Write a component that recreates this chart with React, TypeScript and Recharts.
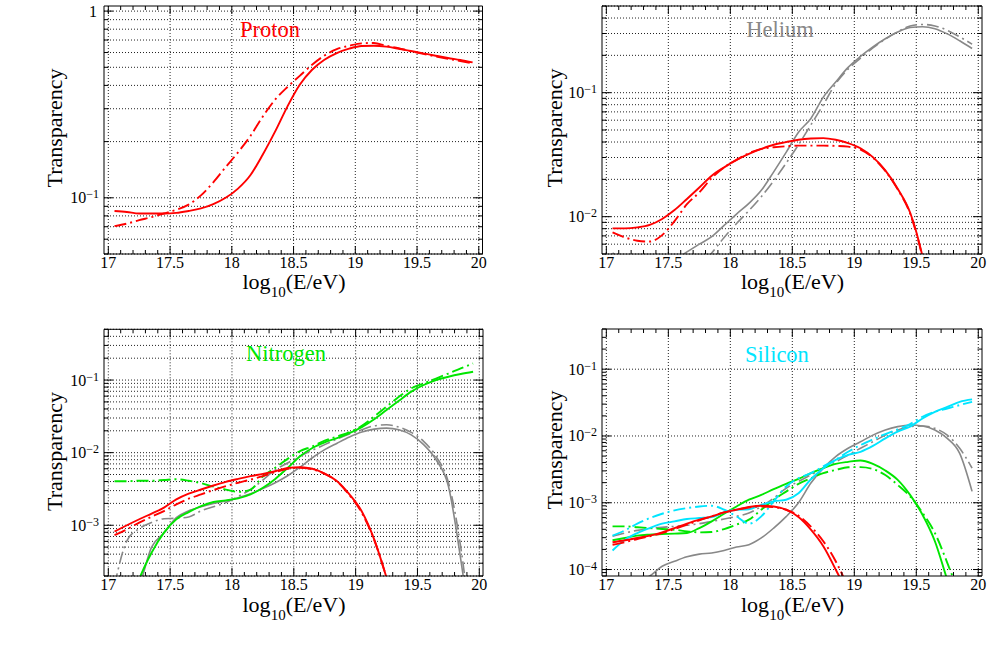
import React from 'react';
import { LineChart, Line, XAxis, YAxis, CartesianGrid } from 'recharts';

const FONT = '"Liberation Serif", "Times New Roman", serif';

// ---------- x axis ----------
const X_BINS = [17.05, 17.15, 17.25, 17.35, 17.45, 17.55, 17.65, 17.75, 17.85, 17.95,
  18.05, 18.15, 18.25, 18.35, 18.45, 18.55, 18.65, 18.75, 18.85, 18.95,
  19.05, 19.15, 19.25, 19.35, 19.45, 19.55, 19.65, 19.75, 19.85, 19.95];
const X_DOMAIN = [16.965, 20.03];
const X_MAJOR = [17, 17.5, 18, 18.5, 19, 19.5, 20];
const X_LABELS = ['17', '17.5', '18', '18.5', '19', '19.5', '20'];
const X_TICKS = [17, 17.1, 17.2, 17.3, 17.4, 17.5, 17.6, 17.7, 17.8, 17.9,
  18, 18.1, 18.2, 18.3, 18.4, 18.5, 18.6, 18.7, 18.8, 18.9,
  19, 19.1, 19.2, 19.3, 19.4, 19.5, 19.6, 19.7, 19.8, 19.9, 20];

// ---------- panel 1 : Proton ----------
const P1_PROTON_SOLID = [0.085, 0.084, 0.0824, 0.0824, 0.0824, 0.083, 0.085, 0.0877, 0.0925, 0.1,
  0.112, 0.132, 0.17, 0.226, 0.308, 0.403, 0.485, 0.549, 0.596, 0.629,
  0.65, 0.652, 0.645, 0.629, 0.611, 0.594, 0.577, 0.561, 0.547, 0.531];
const P1_PROTON_DASH = [0.0705, 0.0727, 0.0759, 0.0788, 0.0824, 0.0862, 0.092, 0.103, 0.121, 0.146,
  0.175, 0.214, 0.272, 0.335, 0.392, 0.45, 0.516, 0.578, 0.625, 0.652,
  0.672, 0.675, 0.652, 0.634, 0.609, 0.59, 0.572, 0.556, 0.54, 0.525];
const P1_Y_DOMAIN = [0.05, 1.065];
const P1_Y_TICKS = [0.05, 0.06, 0.07, 0.08, 0.09, 0.1, 0.2, 0.3, 0.4, 0.5, 0.6, 0.7, 0.8, 0.9, 1];

// ---------- panel 2 : Helium ----------
const P2_PROTON_SOLID = [0.00805, 0.00805, 0.0082, 0.00858, 0.00958, 0.0113, 0.0139, 0.0172, 0.0214, 0.025,
  0.0287, 0.0321, 0.0352, 0.038, 0.0399, 0.0417, 0.0427, 0.043, 0.0417, 0.0392,
  0.0356, 0.0302, 0.0236, 0.0168, 0.0108, 0.0048, 0.0015, 0.0005, 0.0002, 0.0001];
const P2_PROTON_DASH = [0.00746, 0.0068, 0.0064, 0.0063, 0.0071, 0.0092, 0.0126, 0.0157, 0.0205, 0.025,
  0.0287, 0.0325, 0.0352, 0.0363, 0.037, 0.0374, 0.0374, 0.0374, 0.0372, 0.0367,
  0.0347, 0.0299, 0.0234, 0.0166, 0.0106, 0.0047, 0.0015, 0.0005, 0.0002, 0.0001];
const P2_HELIUM_SOLID = [0.002, 0.0025, 0.003, 0.0035, 0.004, 0.0045, 0.0052, 0.006, 0.0069, 0.0085,
  0.0105, 0.0128, 0.0163, 0.023, 0.033, 0.048, 0.062, 0.092, 0.122, 0.16,
  0.196, 0.234, 0.272, 0.308, 0.335, 0.34, 0.328, 0.298, 0.262, 0.227];
const P2_HELIUM_DASH = [0.0051, 0.0042, 0.0036, 0.0032, 0.003, 0.0031, 0.0034, 0.0039, 0.0051, 0.0068,
  0.0088, 0.0112, 0.0145, 0.0195, 0.027, 0.038, 0.055, 0.08, 0.118, 0.155,
  0.19, 0.23, 0.27, 0.31, 0.345, 0.355, 0.345, 0.318, 0.282, 0.246];
const P2_Y_DOMAIN = [0.005, 0.5];
const P2_Y_TICKS = [0.005, 0.006, 0.007, 0.008, 0.009,
  0.01, 0.02, 0.03, 0.04, 0.05, 0.06, 0.07, 0.08, 0.09,
  0.1, 0.2, 0.3, 0.4, 0.5];

// ---------- panel 3 : Nitrogen ----------
const P3_PROTON_SOLID = [0.00082, 0.001, 0.00121, 0.00145, 0.00175, 0.00227, 0.00272, 0.00311, 0.00353, 0.00396,
  0.00435, 0.00474, 0.0051, 0.00555, 0.00616, 0.0063, 0.006, 0.00515, 0.00404, 0.00266,
  0.00155, 0.00064, 0.00019, 0.00005, 0.00002, 0.00001, 0.00001, 0.00001, 0.00001, 0.00001];
const P3_PROTON_DASH = [0.00073, 0.00088, 0.00109, 0.00131, 0.00157, 0.00194, 0.00232, 0.00266, 0.00305, 0.00345,
  0.00385, 0.00425, 0.00474, 0.0054, 0.006, 0.0062, 0.0059, 0.0051, 0.004, 0.0026,
  0.00148, 0.00063, 0.00019, 0.00005, 0.00002, 0.00001, 0.00001, 0.00001, 0.00001, 0.00001];
const P3_HELIUM_SOLID = [0.00005, 0.0001, 0.00015, 0.0005, 0.00078, 0.00127, 0.00158, 0.0018, 0.002, 0.00216,
  0.0024, 0.00272, 0.0032, 0.00385, 0.0048, 0.0063, 0.0085, 0.011, 0.0135, 0.0164,
  0.0192, 0.0211, 0.0218, 0.0207, 0.0176, 0.0129, 0.008, 0.00347, 0.00034, 0.00002];
const P3_HELIUM_DASH = [0.00015, 0.00061, 0.0009, 0.00109, 0.00123, 0.00125, 0.0013, 0.00158, 0.0018, 0.00205,
  0.0025, 0.0031, 0.0042, 0.0058, 0.0072, 0.0089, 0.0108, 0.0129, 0.0154, 0.018,
  0.0207, 0.0234, 0.0242, 0.0225, 0.019, 0.0143, 0.0089, 0.0039, 0.0005, 0.00002];
const P3_NITROGEN_SOLID = [0.00002, 0.00005, 0.00018, 0.00042, 0.00079, 0.00121, 0.00152, 0.00184, 0.00209, 0.0022,
  0.00235, 0.00266, 0.00328, 0.00435, 0.00616, 0.0089, 0.0116, 0.0139, 0.0159, 0.0186,
  0.0225, 0.0289, 0.0388, 0.052, 0.0692, 0.0855, 0.1, 0.111, 0.121, 0.13];
const P3_NITROGEN_DASH = [0.00404, 0.00404, 0.0041, 0.0041, 0.0042, 0.0043, 0.0041, 0.0038, 0.0034, 0.0031,
  0.00288, 0.0031, 0.0047, 0.0062, 0.0082, 0.0105, 0.0122, 0.0146, 0.0167, 0.0192,
  0.0234, 0.0314, 0.0431, 0.059, 0.077, 0.09, 0.105, 0.123, 0.145, 0.169];
const P3_Y_DOMAIN = [0.0002, 0.5];
const P3_Y_TICKS = [0.0002, 0.0003, 0.0004, 0.0005, 0.0006, 0.0007, 0.0008, 0.0009,
  0.001, 0.002, 0.003, 0.004, 0.005, 0.006, 0.007, 0.008, 0.009,
  0.01, 0.02, 0.03, 0.04, 0.05, 0.06, 0.07, 0.08, 0.09,
  0.1, 0.2, 0.3, 0.4, 0.5];

// ---------- panel 4 : Silicon ----------
const P4_PROTON_SOLID = [2.56e-4, 2.74e-4, 2.97e-4, 3.22e-4, 3.6e-4, 4.18e-4, 4.86e-4, 5.58e-4, 6.25e-4, 7.17e-4,
  7.86e-4, 8.62e-4, 9.0e-4, 8.8e-4, 7.86e-4, 6.1e-4, 3.95e-4, 2.23e-4, 1.0e-4, 4e-5,
  1e-5, 1e-5, 1e-5, 1e-5, 1e-5, 1e-5, 1e-5, 1e-5, 1e-5, 1e-5];
const P4_PROTON_DASH = [2.35e-4, 2.56e-4, 2.87e-4, 3.15e-4, 3.52e-4, 4.04e-4, 4.7e-4, 5.45e-4, 6.25e-4, 7.17e-4,
  7.86e-4, 8.5e-4, 8.8e-4, 8.6e-4, 7.86e-4, 6.4e-4, 4.4e-4, 2.65e-4, 1.33e-4, 5e-5,
  1e-5, 1e-5, 1e-5, 1e-5, 1e-5, 1e-5, 1e-5, 1e-5, 1e-5, 1e-5];
const P4_HELIUM_SOLID = [4e-5, 5e-5, 6.5e-5, 8e-5, 1.12e-4, 1.33e-4, 1.55e-4, 1.7e-4, 1.77e-4, 1.93e-4,
  2.17e-4, 2.35e-4, 2.97e-4, 4.18e-4, 6.2e-4, 1.0e-3, 1.97e-3, 3.3e-3, 4.92e-3, 6.55e-3,
  8.2e-3, 1.03e-2, 1.23e-2, 1.38e-2, 1.46e-2, 1.41e-2, 1.23e-2, 9.2e-3, 5.5e-3, 1.48e-3];
const P4_HELIUM_DASH = [3.15e-4, 3.52e-4, 3.86e-4, 4.12e-4, 4.3e-4, 4.43e-4, 4.6e-4, 4.86e-4, 5.26e-4, 5.7e-4,
  6.25e-4, 7.0e-4, 8.8e-4, 1.17e-3, 1.65e-3, 2.08e-3, 2.62e-3, 3.3e-3, 4.1e-3, 5.2e-3,
  6.55e-3, 8.2e-3, 1.03e-2, 1.23e-2, 1.38e-2, 1.41e-2, 1.3e-2, 1.03e-2, 6.55e-3, 3.3e-3];
const P4_NITROGEN_SOLID = [2.74e-4, 2.97e-4, 3.22e-4, 3.33e-4, 3.4e-4, 3.45e-4, 3.52e-4, 4.18e-4, 5.26e-4, 6.85e-4,
  8.8e-4, 1.11e-3, 1.31e-3, 1.6e-3, 1.92e-3, 2.28e-3, 2.78e-3, 3.3e-3, 3.82e-3, 4.1e-3,
  4.3e-3, 3.82e-3, 3.04e-3, 2.2e-3, 1.31e-3, 6.6e-4, 2.65e-4, 7e-5, 2e-5, 1e-5];
const P4_NITROGEN_DASH = [4.43e-4, 4.43e-4, 4.3e-4, 4.18e-4, 4.04e-4, 3.95e-4, 3.73e-4, 3.6e-4, 3.65e-4, 4.04e-4,
  4.7e-4, 5.58e-4, 7.86e-4, 1.11e-3, 1.47e-3, 1.92e-3, 2.33e-3, 2.78e-3, 3.1e-3, 3.4e-3,
  3.42e-3, 3.2e-3, 2.6e-3, 1.85e-3, 1.25e-3, 7.1e-4, 3.52e-4, 1.26e-4, 4e-5, 1e-5];
const P4_SILICON_SOLID = [1.93e-4, 2.8e-4, 3.52e-4, 4.18e-4, 4.86e-4, 5.26e-4, 5.7e-4, 5.9e-4, 6.1e-4, 7.17e-4,
  7.86e-4, 8.0e-4, 9.3e-4, 1.05e-3, 1.11e-3, 1.39e-3, 2.25e-3, 3.3e-3, 4.4e-3, 5.2e-3,
  5.8e-3, 7.1e-3, 9.2e-3, 1.16e-2, 1.38e-2, 1.83e-2, 2.3e-2, 2.73e-2, 3.25e-2, 3.53e-2];
const P4_SILICON_DASH = [3.22e-4, 3.86e-4, 4.86e-4, 5.9e-4, 6.85e-4, 7.7e-4, 8.3e-4, 8.8e-4, 9.0e-4, 7.86e-4,
  6.25e-4, 4.86e-4, 6.25e-4, 1.05e-3, 1.75e-3, 2.33e-3, 2.78e-3, 3.5e-3, 4.4e-3, 5.8e-3,
  7.3e-3, 8.9e-3, 1.07e-2, 1.26e-2, 1.51e-2, 1.94e-2, 2.3e-2, 2.58e-2, 2.9e-2, 3.25e-2];
const P4_Y_DOMAIN = [0.00008, 0.4];
const P4_Y_TICKS = [0.00008, 0.00009,
  0.0001, 0.0002, 0.0003, 0.0004, 0.0005, 0.0006, 0.0007, 0.0008, 0.0009,
  0.001, 0.002, 0.003, 0.004, 0.005, 0.006, 0.007, 0.008, 0.009,
  0.01, 0.02, 0.03, 0.04, 0.05, 0.06, 0.07, 0.08, 0.09,
  0.1, 0.2, 0.3, 0.4];
const P4_Y_GRID = [0.0001, 0.001, 0.01, 0.1];

// ---------- styles ----------
const RED = '#ff0000';
const GRAY = '#888888';
const GREEN = '#00e600';
const CYAN = '#00e5ff';
const DASH = '12 4 2 4';

function buildRows(series) {
  return X_BINS.map((x, i) => {
    const r = { x };
    for (const k of Object.keys(series)) r[k] = series[k][i];
    return r;
  });
}

function isDecade(v) {
  const l = Math.log10(v);
  return Math.abs(l - Math.round(l)) < 1e-6;
}

function makeXTick(side) {
  return (props) => {
    const { x, y, payload } = props;
    const v = payload.value;
    const idx = X_MAJOR.findIndex((m) => Math.abs(m - v) < 1e-6);
    const len = idx >= 0 ? 8 : 4;
    const dir = side === 'bottom' ? -1 : 1;
    return (
      <g>
        <line x1={x} x2={x} y1={y} y2={y + dir * len} stroke="#000" strokeWidth={1} />
        {side === 'bottom' && idx >= 0 ? (
          <text x={x} y={y + 14} textAnchor="middle" fontFamily={FONT} fontSize={16} fill="#000">
            {X_LABELS[idx]}
          </text>
        ) : null}
      </g>
    );
  };
}

function makeYTick(side) {
  return (props) => {
    const { x, y, payload } = props;
    const v = payload.value;
    const major = isDecade(v);
    const len = major ? 9 : 4.5;
    const dir = side === 'left' ? 1 : -1;
    let label = null;
    if (side === 'left' && major) {
      const e = Math.round(Math.log10(v));
      if (e === 0) {
        label = (
          <text x={x - 7} y={y + 6} textAnchor="end" fontFamily={FONT} fontSize={16} fill="#000">1</text>
        );
      } else {
        label = (
          <text x={x - 5} y={y + 5.5} textAnchor="end" fontFamily={FONT} fontSize={16} fill="#000">
            <tspan>10</tspan>
            <tspan fontSize={12} dy={-5}>{'\u2212' + Math.abs(e)}</tspan>
          </text>
        );
      }
    }
    return (
      <g>
        <line x1={x} x2={x + dir * len} y1={y} y2={y} stroke="#000" strokeWidth={1} />
        {label}
      </g>
    );
  };
}

const bottomTick = makeXTick('bottom');
const topTick = makeXTick('top');
const leftTick = makeYTick('left');
const rightTick = makeYTick('right');

function Panel({ left, top, width, height, plot, yDomain, yTicks, yGrid, rows, series }) {
  return (
    <div style={{ position: 'absolute', left, top, width, height }}>
      <LineChart width={width} height={height} data={rows} margin={{ top: 0, right: 0, bottom: 0, left: 0 }}>
        <CartesianGrid
          xAxisId="b"
          yAxisId="l"
          verticalValues={X_MAJOR}
          horizontalValues={yGrid}
          stroke="#222"
          strokeDasharray="1 2"
          strokeWidth={1}
        />
        <XAxis
          xAxisId="b"
          dataKey="x"
          type="number"
          orientation="bottom"
          domain={X_DOMAIN}
          ticks={X_TICKS}
          interval={0}
          allowDataOverflow
          height={height - plot.bottom}
          axisLine={{ stroke: '#000', strokeWidth: 1 }}
          tickLine={false}
          tickSize={0}
          tickMargin={0}
          tick={bottomTick}
        />
        <XAxis
          xAxisId="t"
          dataKey="x"
          type="number"
          orientation="top"
          domain={X_DOMAIN}
          ticks={X_TICKS}
          interval={0}
          allowDataOverflow
          height={plot.top}
          axisLine={{ stroke: '#000', strokeWidth: 1 }}
          tickLine={false}
          tickSize={0}
          tickMargin={0}
          tick={topTick}
        />
        <YAxis
          yAxisId="l"
          type="number"
          scale="log"
          orientation="left"
          domain={yDomain}
          ticks={yTicks}
          interval={0}
          allowDataOverflow
          width={plot.left}
          axisLine={{ stroke: '#000', strokeWidth: 1 }}
          tickLine={false}
          tickSize={0}
          tickMargin={0}
          tick={leftTick}
        />
        <YAxis
          yAxisId="r"
          type="number"
          scale="log"
          orientation="right"
          domain={yDomain}
          ticks={yTicks}
          interval={0}
          allowDataOverflow
          width={width - plot.right}
          axisLine={{ stroke: '#000', strokeWidth: 1 }}
          tickLine={false}
          tickSize={0}
          tickMargin={0}
          tick={rightTick}
        />
        {series.map((s) => (
          <Line
            key={s.key}
            xAxisId="b"
            yAxisId="l"
            dataKey={s.key}
            type="monotone"
            stroke={s.color}
            strokeWidth={s.width}
            strokeDasharray={s.dash ? DASH : undefined}
            dot={false}
            activeDot={false}
            isAnimationActive={false}
          />
        ))}
      </LineChart>
    </div>
  );
}

const P1_ROWS = buildRows({ ps: P1_PROTON_SOLID, pd: P1_PROTON_DASH });
const P2_ROWS = buildRows({ ps: P2_PROTON_SOLID, pd: P2_PROTON_DASH, hs: P2_HELIUM_SOLID, hd: P2_HELIUM_DASH });
const P3_ROWS = buildRows({
  ps: P3_PROTON_SOLID, pd: P3_PROTON_DASH, hs: P3_HELIUM_SOLID, hd: P3_HELIUM_DASH,
  ns: P3_NITROGEN_SOLID, nd: P3_NITROGEN_DASH,
});
const P4_ROWS = buildRows({
  ps: P4_PROTON_SOLID, pd: P4_PROTON_DASH, hs: P4_HELIUM_SOLID, hd: P4_HELIUM_DASH,
  ns: P4_NITROGEN_SOLID, nd: P4_NITROGEN_DASH, ss: P4_SILICON_SOLID, sd: P4_SILICON_DASH,
});

const S_P = [
  { key: 'pd', color: RED, width: 1.9, dash: true },
  { key: 'ps', color: RED, width: 1.9, dash: false },
];
const S_H = [
  { key: 'hd', color: GRAY, width: 1.6, dash: true },
  { key: 'hs', color: GRAY, width: 1.6, dash: false },
];
const S_N = [
  { key: 'nd', color: GREEN, width: 1.9, dash: true },
  { key: 'ns', color: GREEN, width: 1.9, dash: false },
];
const S_S = [
  { key: 'sd', color: CYAN, width: 1.9, dash: true },
  { key: 'ss', color: CYAN, width: 1.9, dash: false },
];

function XLabel({ x, y }) {
  return (
    <text x={x} y={y} textAnchor="middle" fontFamily={FONT} fontSize={22} fill="#000">
      <tspan>log</tspan>
      <tspan fontSize={15} dy={8}>10</tspan>
      <tspan dy={-8}>(E/eV)</tspan>
    </text>
  );
}
function YLabel({ x, y }) {
  return (
    <text x={x} y={y} textAnchor="middle" fontFamily={FONT} fontSize={22} fill="#000" transform={`rotate(-90 ${x} ${y})`}>
      Transparency
    </text>
  );
}
function Title({ x, y, color, text }) {
  return (
    <text x={x} y={y} textAnchor="middle" fontFamily={FONT} fontSize={22.5} fill={color}>{text}</text>
  );
}

export default function App() {
  return (
    <div style={{ position: 'absolute', left: 0, top: 0, width: 998, height: 646, background: '#fff', overflow: 'hidden' }}>
      <Panel left={0} top={0} width={499} height={320}
        plot={{ left: 104, right: 482.5, top: 6, bottom: 254 }}
        yDomain={P1_Y_DOMAIN} yTicks={P1_Y_TICKS} yGrid={P1_Y_TICKS}
        rows={P1_ROWS} series={S_P} />
      <Panel left={499} top={0} width={499} height={320}
        plot={{ left: 103, right: 483, top: 6, bottom: 254 }}
        yDomain={P2_Y_DOMAIN} yTicks={P2_Y_TICKS} yGrid={P2_Y_TICKS}
        rows={P2_ROWS} series={[...S_H, ...S_P]} />
      <Panel left={0} top={320} width={499} height={326}
        plot={{ left: 104, right: 483, top: 9.3, bottom: 256 }}
        yDomain={P3_Y_DOMAIN} yTicks={P3_Y_TICKS} yGrid={P3_Y_TICKS}
        rows={P3_ROWS} series={[...S_H, ...S_N, ...S_P]} />
      <Panel left={499} top={320} width={499} height={326}
        plot={{ left: 103, right: 483, top: 9, bottom: 256 }}
        yDomain={P4_Y_DOMAIN} yTicks={P4_Y_TICKS} yGrid={P4_Y_GRID}
        rows={P4_ROWS} series={[...S_H, ...S_N, ...S_S, ...S_P]} />
      <svg width={998} height={646} style={{ position: 'absolute', left: 0, top: 0, pointerEvents: 'none' }}>
        <Title x={270} y={37} color={RED} text="Proton" />
        <Title x={780} y={37} color={GRAY} text="Helium" />
        <Title x={286} y={361} color={GREEN} text="Nitrogen" />
        <Title x={777} y={362} color={CYAN} text="Silicon" />
        <YLabel x={61.7} y={128} />
        <YLabel x={561.7} y={128} />
        <YLabel x={61.7} y={451.5} />
        <YLabel x={561.7} y={450} />
        <XLabel x={294} y={289} />
        <XLabel x={792.5} y={289} />
        <XLabel x={294} y={611.5} />
        <XLabel x={792.5} y={611.5} />
      </svg>
    </div>
  );
}
